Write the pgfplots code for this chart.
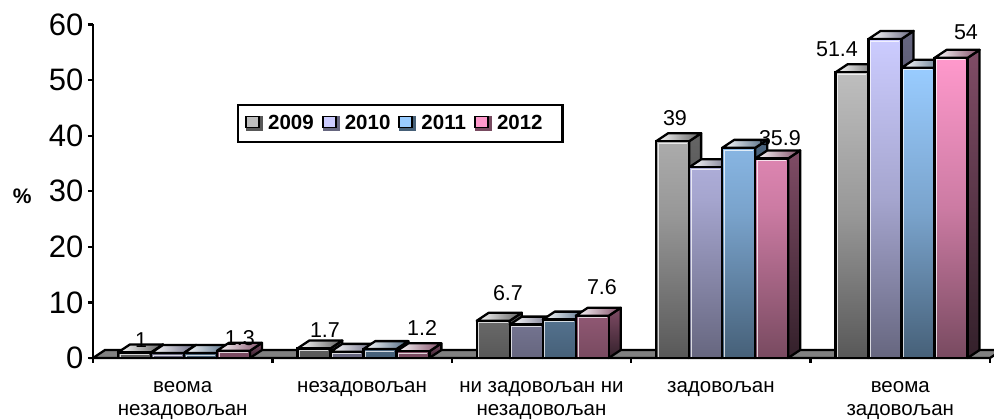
\documentclass[border=0pt]{standalone}
\usepackage{fontspec}
\setmainfont{Liberation Sans}
\usepackage{pgfplots}
\pgfplotsset{compat=1.18}

\definecolor{grayF}{HTML}{BEBEBE}\definecolor{grayB}{HTML}{585858}\definecolor{grayT}{HTML}{5E5E5E}\definecolor{grayS}{HTML}{666666}\definecolor{grayD}{HTML}{262626}
\definecolor{lavF}{HTML}{CCCCFF}\definecolor{lavB}{HTML}{66667F}\definecolor{lavT}{HTML}{66667F}\definecolor{lavS}{HTML}{666680}\definecolor{lavD}{HTML}{2B2B38}
\definecolor{bluF}{HTML}{99CCFF}\definecolor{bluB}{HTML}{466078}\definecolor{bluT}{HTML}{4C6680}\definecolor{bluS}{HTML}{4C6680}\definecolor{bluD}{HTML}{222E3A}
\definecolor{pnkF}{HTML}{FF99CC}\definecolor{pnkB}{HTML}{784A60}\definecolor{pnkT}{HTML}{804C66}\definecolor{pnkS}{HTML}{804C66}\definecolor{pnkD}{HTML}{33202A}

% 1 category = 179.4 px, 1 % = 5.55 px, picture is drawn at 1 pt per px
\def\bw{0.184}
\def\dx{0.0669}
\def\dy{1.44}
\def\lw{2.3pt}

% slot, front top/bottom, top face, side top/bottom, list of category/value
\newcommand{\barseries}[7]{%
  \gdef\pts{}%
  \foreach \c/\v in {#7} {%
    \pgfmathsetmacro\xl{\c+(#1-0.5)*\bw+0.007}%
    \pgfmathsetmacro\xr{\xl+\bw}%
    \pgfmathsetmacro\xL{\xl+\dx}%
    \pgfmathsetmacro\xR{\xr+\dx}%
    \pgfmathsetmacro\vb{\v+\dy}%
    \edef\tmp{\noexpand\addplot[forget plot,draw=black,line width=\lw,line join=round,top color=#5,bottom color=#6]
      coordinates {(\xr,0) (\xR,\dy) (\xR,\vb) (\xr,\v)} --cycle;
      \noexpand\addplot[forget plot,draw=black,line width=\lw,line join=round,left color=white,right color=#4]
      coordinates {(\xl,\v) (\xL,\vb) (\xR,\vb) (\xr,\v)} --cycle;}%
    \tmp
    \xdef\pts{\pts (\c,\v)}%
  }%
  \pgfmathsetmacro\sh{#1*33+1.3}%
  \edef\tmp{\noexpand\addplot[forget plot,ybar,bar width=33pt,bar shift=\sh pt,draw=black,line width=\lw,top color=#2,bottom color=#3,middle color=#2!62!#3]
    coordinates {\pts};}%
  \tmp
  % pale bevel along the left and top edge of each front
  \foreach \c/\v in {#7} {%
    \pgfmathsetmacro\xa{\c+(#1-0.5)*\bw+0.007+0.0125}%
    \pgfmathsetmacro\xb{\xa+\bw-0.025}%
    \pgfmathsetmacro\vi{\v-0.38}%
    \edef\tmp{\noexpand\addplot[forget plot,draw=white,draw opacity=0.75,line width=1pt]
      coordinates {(\xa,0.2) (\xa,\vi) (\xb,\vi)};}%
    \tmp
  }%
}

\begin{document}
\begin{tikzpicture}
\path[use as bounding box] (-93pt,-62pt) rectangle (901pt,358pt);
\begin{axis}[
  at={(0pt,0pt)},
  scale only axis,
  width=897pt,
  height=333.5pt,
  clip=false,
  xmin=-0.5, xmax=4.5,
  ymin=0, ymax=60,
  axis x line*=bottom,
  axis y line*=left,
  axis line style={line width=\lw,-},
  tick style={line width=\lw,black},
  tick align=outside,
  major tick length=5pt,
  ytick={0,10,...,60},
  xtick={-0.5,0.5,1.5,2.5,3.5,4.5},
  x tick label as interval,
  xticklabels={{веома\\незадовољан},{незадовољан},{ни задовољан ни\\незадовољан},{задовољан},{веома\\задовољан}},
  x tick label style={align=center,font=\fontsize{20.5}{23}\selectfont,yshift=-15pt},
  y tick label style={font=\fontsize{31}{31}\selectfont,/pgf/number format/assume math mode=true,xshift=-1pt},
  ylabel={\textbf{\%}},
  ylabel style={rotate=-90,at={(axis description cs:-0.079,0.486)},anchor=center,font=\fontsize{21}{21}\selectfont},
  legend columns=4,
  legend style={
    at={(0.1605,0.7616)},anchor=north west,
    draw=black,line width=\lw,
    font=\fontsize{20.5}{20.5}\selectfont\bfseries,
    inner xsep=7pt,inner ysep=8.5pt,
    /tikz/every even column/.append style={column sep=6pt},
    /tikz/every odd column/.append style={column sep=3pt},
  },
]
% floor
\addplot[forget plot,draw=black,line width=\lw,fill=gray] coordinates {(-0.5,0) (-0.4331,1.44) (4.5669,1.44) (4.5,0)} --cycle;

\barseries{-1.5}{grayF}{grayB}{grayT}{grayS}{grayD}{0/1,1/1.7,2/6.7,3/39,4/51.4}
\barseries{-0.5}{lavF}{lavB}{lavT}{lavS}{lavD}{0/0.9,1/1.1,2/6,3/34.3,4/57.4}
\barseries{0.5}{bluF}{bluB}{bluT}{bluS}{bluD}{0/0.9,1/1.6,2/6.9,3/37.8,4/52.2}
\barseries{1.5}{pnkF}{pnkB}{pnkT}{pnkS}{pnkD}{0/1.3,1/1.2,2/7.6,3/35.9,4/54}

\addlegendimage{legend image code/.code={\fill[grayB] (1pt,-6pt) rectangle (16pt,6pt);\draw[line width=1.8pt,fill=grayF] (0pt,-4pt) rectangle (13pt,7pt);}}
\addlegendimage{legend image code/.code={\fill[lavB] (1pt,-6pt) rectangle (16pt,6pt);\draw[line width=1.8pt,fill=lavF] (0pt,-4pt) rectangle (13pt,7pt);}}
\addlegendimage{legend image code/.code={\fill[bluB] (1pt,-6pt) rectangle (16pt,6pt);\draw[line width=1.8pt,fill=bluF] (0pt,-4pt) rectangle (13pt,7pt);}}
\addlegendimage{legend image code/.code={\fill[pnkB] (1pt,-6pt) rectangle (16pt,6pt);\draw[line width=1.8pt,fill=pnkF] (0pt,-4pt) rectangle (13pt,7pt);}}
\legend{2009,2010,2011,2012\rule{11pt}{0pt}}

\begin{scope}[every node/.style={font=\fontsize{21.5}{21.5}\selectfont,inner sep=0pt}]
\node at (axis cs:-0.232,3.2) {1};
\node at (axis cs:0.319,3.6) {1.3};
\node at (axis cs:0.793,5.0) {1.7};
\node at (axis cs:1.334,5.4) {1.2};
\node at (axis cs:1.813,11.7) {6.7};
\node at (axis cs:2.337,12.8) {7.6};
\node at (axis cs:2.744,43.1) {39};
\node at (axis cs:3.329,39.6) {35.9};
\node at (axis cs:3.647,55.5) {51.4};
\node at (axis cs:4.366,58.7) {54};
\end{scope}
\end{axis}
\end{tikzpicture}
\end{document}
